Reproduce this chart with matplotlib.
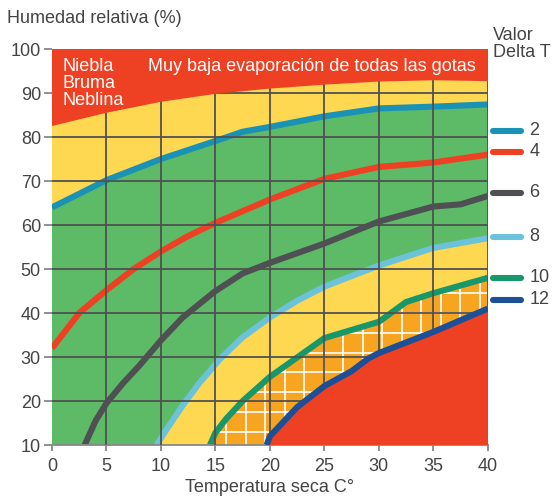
import numpy as np
import matplotlib.pyplot as plt

plt.rcParams['font.family'] = ['Liberation Sans', 'DejaVu Sans']

# Datos (temperatura, humedad relativa)
niebla_t = [0, 5, 10, 15, 20, 25, 30, 35, 40]
niebla_h = [82.5, 85.5, 88, 89.8, 91, 91.9, 92.6, 92.9, 92.7]

dt2_t = [0, 5, 10, 15, 17.5, 20, 25, 30, 35, 40]
dt2_h = [64, 70.2, 75, 79.1, 81.2, 82.3, 84.7, 86.5, 86.9, 87.4]

dt4_t = [0, 2.5, 5, 7.5, 10, 12.5, 15, 20, 25, 30, 35, 40]
dt4_h = [32, 40, 45.2, 50, 54, 57.5, 60.5, 65.8, 70.5, 73.2, 74.2, 76]

dt6_t = [3, 4, 5, 6.5, 8, 10, 12, 15, 17.5, 20, 25, 30, 35, 37.5, 40]
dt6_h = [10, 15.5, 19.5, 24, 28, 33.8, 39, 45, 49, 51.4, 55.8, 60.8, 64.2, 64.7, 66.6]

dt8_t = [9.6, 10.5, 12, 13.5, 15.4, 17.5, 20, 22.5, 25, 30, 35, 40]
dt8_h = [10, 13.5, 19, 24, 29.5, 34.5, 39, 42.8, 46, 50.8, 54.8, 57]

dt10_t = [14.5, 15, 16, 17.5, 20, 25, 30, 32.5, 35, 40]
dt10_h = [10, 12.8, 16, 20, 25.5, 34.3, 38, 42.5, 44.5, 48]

dt12_t = [19.7, 20, 22.5, 25, 27.5, 29, 30, 35, 40]
dt12_h = [10, 12, 18.6, 23.4, 26.8, 29.6, 30.9, 35.7, 41]

valores_dt = ['2', '4', '6', '8', '10', '12']
leyenda_y = [81.4, 76.6, 67.3, 57.3, 48, 43]

rojo = '#EE4124'
amarillo = '#FFD852'
verde = '#5DBA67'
naranja = '#F7A520'
colores = ['#1A92B6', '#EE4124', '#4E5054', '#6CC2D8', '#17976A', '#1D4F97']
gris = '#444444'
fs = 13

fig = plt.figure(figsize=(5.55, 4.99), dpi=100)
ax = fig.add_axes([0.0937, 0.1082, 0.879 - 0.0937, 0.9018 - 0.1082])
ax.set_xlim(0, 40)
ax.set_ylim(10, 100)
ax.set_facecolor(amarillo)

# Zona verde (entre Delta T 2 y 8)
verde_x = dt2_t + dt8_t[::-1] + [0]
verde_y = dt2_h + dt8_h[::-1] + [10]
ax.fill(verde_x, verde_y, color=verde, lw=0, zorder=1)

# Zona naranja con cuadricula blanca (entre 10 y 12)
nar_x = dt10_t + dt12_t[::-1]
nar_y = dt10_h + dt12_h[::-1]
parche = ax.fill(nar_x, nar_y, color=naranja, lw=0, zorder=1)[0]
for xv in np.arange(16, 40, 1.79):
    l = ax.plot([xv, xv], [10, 100], color='white', lw=1.2, zorder=1.5)[0]
    l.set_clip_path(parche)
for yv in np.arange(13, 50, 4.5):
    l = ax.plot([0, 40], [yv, yv], color='white', lw=1.2, zorder=1.5)[0]
    l.set_clip_path(parche)

# Lineas Delta T
series = [(dt2_t, dt2_h), (dt4_t, dt4_h), (dt6_t, dt6_h),
          (dt8_t, dt8_h), (dt10_t, dt10_h)]
for (t, h), c in zip(series, colores[:5]):
    ax.plot(t, h, color=c, lw=4.4, zorder=2, solid_capstyle='butt')

# Cuadricula
for xv in range(5, 41, 5):
    ax.plot([xv, xv], [10, 100], color='#505050', lw=1.3, zorder=3)
for yv in range(20, 100, 10):
    ax.plot([0, 40], [yv, yv], color='#505050', lw=1.3, zorder=3)

# Zonas rojas
ax.fill(niebla_t + [40, 0], niebla_h + [100, 100], color=rojo, lw=0, zorder=4)
ax.fill(dt12_t + [40], dt12_h + [10], color=rojo, lw=0, zorder=4)
ax.plot(dt12_t, dt12_h, color=colores[5], lw=4.4, zorder=5, solid_capstyle='butt')

ax.text(1.0, 97.9, 'Niebla\nBruma\nNeblina', color='white', fontsize=fs,
        va='top', ha='left', linespacing=0.98, zorder=6)
ax.text(8.8, 97.9, 'Muy baja evaporación de todas las gotas', color='white',
        fontsize=fs, va='top', ha='left', zorder=6)

# Leyenda manual
for y, c, v in zip(leyenda_y, colores, valores_dt):
    ax.plot([40.5, 43.0], [y, y], color=c, lw=4.4, solid_capstyle='round',
            clip_on=False)
    ax.text(43.8, y, v, color=gris, fontsize=fs, va='center', ha='left')
fig.text(0.888, 0.946, 'Valor\nDelta T', color=gris, fontsize=fs,
         va='top', ha='left', linespacing=1.0)

# Ejes
for s in ['top', 'right', 'left']:
    ax.spines[s].set_visible(False)
ax.spines['bottom'].set_color('#888888')
ax.spines['bottom'].set_linewidth(1.3)
ax.set_xticks(range(0, 41, 5))
ax.set_yticks(range(10, 101, 10))
ax.tick_params(axis='y', length=6, width=1.3, color='#888888', labelsize=fs,
               labelcolor=gris, pad=2)
ax.tick_params(axis='x', length=4, width=1.3, color='#888888', labelsize=fs,
               labelcolor=gris, pad=5)
ax.set_xlabel('Temperatura seca C°', fontsize=fs, color=gris, labelpad=3)
fig.text(0.012, 0.963, 'Humedad relativa (%)', fontsize=fs, color=gris,
         va='center', ha='left')

fig.savefig('out.png', dpi=100)
